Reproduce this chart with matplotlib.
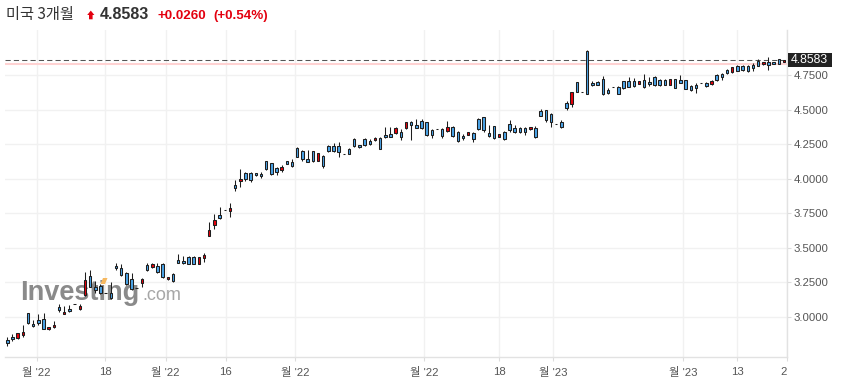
import matplotlib
matplotlib.use('Agg')
import matplotlib.pyplot as plt
import numpy as np
from matplotlib.patches import Rectangle, Polygon
from matplotlib.transforms import Bbox, TransformedBbox, blended_transform_factory

plt.rcParams['font.family'] = ['Liberation Sans', 'Noto Sans CJK KR', 'DejaVu Sans']

# ---------------- data ----------------
opens = [2.831, 2.855, 2.843, 2.870, 3.024, 2.949, 2.974, 2.985, 2.909, 2.923,
         3.068, 3.019, 3.058, 3.094, 3.056, 3.155, 3.297, 3.215, 3.220, 3.169,
         3.174, 3.369, 3.352, 3.318, 3.271, 3.206, 3.246, 3.376, 3.362, 3.367,
         3.381, 3.271, 3.309, 3.410, 3.403, 3.432, 3.432, 3.381, 3.427, 3.586,
         3.664, 3.736, 3.770, 3.767, 3.953, 3.980, 4.040, 4.040, 4.040, 4.035,
         4.125, 4.111, 4.074, 4.062, 4.127, 4.120, 4.221, 4.200, 4.144, 4.200,
         4.129, 4.163, 4.236, 4.236, 4.238, 4.178, 4.214, 4.284, 4.243, 4.284,
         4.272, 4.277, 4.296, 4.316, 4.321, 4.328, 4.337, 4.364, 4.408, 4.388,
         4.417, 4.408, 4.350, 4.359, 4.357, 4.345, 4.373, 4.339, 4.308, 4.318,
         4.328, 4.431, 4.444, 4.328, 4.379, 4.303, 4.337, 4.393, 4.366, 4.366,
         4.366, 4.357, 4.366, 4.489, 4.494, 4.468, 4.393, 4.410, 4.547, 4.538,
         4.697, 4.629, 4.924, 4.692, 4.697, 4.719, 4.641, 4.661, 4.663, 4.704,
         4.704, 4.707, 4.687, 4.714, 4.697, 4.733, 4.714, 4.712, 4.680, 4.721,
         4.712, 4.712, 4.668, 4.678, 4.694, 4.692, 4.687, 4.750, 4.755, 4.786,
         4.770, 4.813, 4.815, 4.815, 4.825, 4.851, 4.827, 4.844, 4.844, 4.864,
         4.845]
highs = [2.851, 2.872, 2.884, 2.942, 3.029, 2.976, 3.019, 3.024, 2.927, 2.971,
         3.090, 3.075, 3.082, 3.094, 3.092, 3.324, 3.338, 3.261, 3.234, 3.169,
         3.253, 3.387, 3.381, 3.324, 3.318, 3.206, 3.280, 3.387, 3.387, 3.387,
         3.387, 3.289, 3.318, 3.454, 3.437, 3.439, 3.436, 3.434, 3.463, 3.688,
         3.744, 3.792, 3.770, 3.825, 3.990, 4.067, 4.050, 4.050, 4.042, 4.048,
         4.129, 4.115, 4.082, 4.100, 4.129, 4.140, 4.226, 4.207, 4.207, 4.202,
         4.185, 4.169, 4.243, 4.260, 4.267, 4.178, 4.224, 4.292, 4.245, 4.296,
         4.289, 4.298, 4.299, 4.371, 4.376, 4.371, 4.357, 4.410, 4.415, 4.429,
         4.431, 4.408, 4.359, 4.359, 4.368, 4.415, 4.378, 4.345, 4.321, 4.337,
         4.339, 4.441, 4.448, 4.386, 4.383, 4.323, 4.347, 4.422, 4.386, 4.371,
         4.376, 4.375, 4.383, 4.502, 4.499, 4.473, 4.393, 4.422, 4.560, 4.629,
         4.701, 4.629, 4.929, 4.709, 4.709, 4.743, 4.654, 4.661, 4.668, 4.709,
         4.733, 4.730, 4.706, 4.757, 4.733, 4.741, 4.719, 4.719, 4.721, 4.723,
         4.752, 4.716, 4.675, 4.690, 4.694, 4.699, 4.714, 4.757, 4.767, 4.796,
         4.810, 4.822, 4.825, 4.820, 4.835, 4.864, 4.844, 4.883, 4.846, 4.868,
         4.860]
lows = [2.788, 2.824, 2.838, 2.851, 2.947, 2.923, 2.938, 2.909, 2.907, 2.918,
        3.032, 3.017, 3.034, 3.094, 3.048, 3.152, 3.213, 3.169, 3.164, 3.169,
        3.126, 3.338, 3.295, 3.232, 3.191, 3.206, 3.217, 3.331, 3.352, 3.316,
        3.280, 3.269, 3.249, 3.387, 3.381, 3.379, 3.379, 3.381, 3.396, 3.584,
        3.633, 3.707, 3.770, 3.720, 3.912, 3.939, 3.985, 3.977, 4.022, 4.006,
        4.064, 4.028, 4.028, 4.050, 4.106, 4.086, 4.154, 4.129, 4.120, 4.120,
        4.127, 4.079, 4.195, 4.195, 4.158, 4.178, 4.176, 4.231, 4.224, 4.236,
        4.243, 4.275, 4.212, 4.296, 4.299, 4.325, 4.282, 4.362, 4.279, 4.364,
        4.361, 4.310, 4.296, 4.359, 4.296, 4.339, 4.301, 4.267, 4.279, 4.316,
        4.267, 4.354, 4.339, 4.301, 4.287, 4.301, 4.279, 4.339, 4.330, 4.330,
        4.318, 4.355, 4.296, 4.451, 4.412, 4.376, 4.393, 4.368, 4.499, 4.520,
        4.627, 4.629, 4.612, 4.670, 4.675, 4.607, 4.612, 4.661, 4.612, 4.651,
        4.661, 4.665, 4.685, 4.656, 4.673, 4.670, 4.673, 4.675, 4.678, 4.654,
        4.690, 4.649, 4.636, 4.622, 4.694, 4.661, 4.675, 4.709, 4.714, 4.759,
        4.767, 4.779, 4.777, 4.772, 4.777, 4.815, 4.825, 4.786, 4.828, 4.830,
        4.843]
closes = [2.807, 2.836, 2.880, 2.889, 2.952, 2.933, 2.952, 2.913, 2.925, 2.940,
          3.048, 3.036, 3.039, 3.094, 3.077, 3.263, 3.217, 3.191, 3.169, 3.169,
          3.133, 3.350, 3.300, 3.239, 3.200, 3.206, 3.271, 3.336, 3.381, 3.324,
          3.285, 3.287, 3.256, 3.391, 3.387, 3.381, 3.381, 3.432, 3.447, 3.628,
          3.700, 3.717, 3.770, 3.787, 3.934, 3.997, 3.997, 3.990, 4.024, 4.017,
          4.067, 4.033, 4.050, 4.082, 4.108, 4.093, 4.158, 4.140, 4.122, 4.125,
          4.183, 4.093, 4.202, 4.202, 4.195, 4.178, 4.180, 4.236, 4.226, 4.241,
          4.253, 4.296, 4.216, 4.299, 4.303, 4.366, 4.301, 4.408, 4.390, 4.368,
          4.368, 4.316, 4.316, 4.359, 4.310, 4.371, 4.306, 4.274, 4.292, 4.335,
          4.289, 4.361, 4.352, 4.310, 4.294, 4.321, 4.284, 4.352, 4.335, 4.335,
          4.337, 4.373, 4.303, 4.455, 4.424, 4.408, 4.393, 4.376, 4.513, 4.625,
          4.629, 4.629, 4.615, 4.675, 4.680, 4.615, 4.622, 4.661, 4.615, 4.654,
          4.665, 4.668, 4.704, 4.663, 4.683, 4.675, 4.675, 4.680, 4.719, 4.656,
          4.694, 4.651, 4.644, 4.654, 4.694, 4.668, 4.707, 4.714, 4.733, 4.764,
          4.808, 4.781, 4.784, 4.777, 4.801, 4.817, 4.842, 4.825, 4.830, 4.832,
          4.858]

x_tick_pos = [5.68, 18.87, 30.59, 42.18, 55.56, 80.47, 94.96, 105.39, 130.49, 140.92]
x_tick_labels = ["월 '22", "18", "월 '22", "16", "월 '22", "월 '22", "18", "월 '23", "월 '23", "13"]
edge_tick_pos = 150.58
edge_tick_label = "20"
y_ticks = [3.0, 3.25, 3.5, 3.75, 4.0, 4.25, 4.5, 4.75]

last_price = 4.8583
prev_close = 4.8323
title_name = "미국 3개월"
price_text = "4.8583"
change_text = "+0.0260"
pct_text = "(+0.54%)"

# ---------------- styles ----------------
W, H = 841, 388
BLUE = '#4aa3e6'
RED = '#e8000b'
EDGE = '#1e1e1e'
GRID = '#f1f1f1'
AXCOL = '#e2e2e2'
LBL = '#555555'
TITLE_RED = '#e3000f'

fig = plt.figure(figsize=(W / 100, H / 100), dpi=100)
fig.patch.set_facecolor('white')


def fpx(x, y):
    return (x / W, 1 - y / H)


ax = fig.add_axes([5 / W, 1 - 357 / H, (787 - 5) / W, (357 - 30) / H])
ax.set_xlim(-0.44, edge_tick_pos)
ax.set_ylim(2.708, 5.076)

o = np.array(opens)
c = np.array(closes)
hi = np.array(highs)
lo = np.array(lows)
xs = np.arange(len(o))
up = c > o
cols = np.where(up, RED, BLUE)

ax.vlines(xs, lo, hi, color=EDGE, lw=0.75, zorder=3)
ax.bar(xs, np.abs(c - o), bottom=np.minimum(o, c), width=0.48, color=cols,
       edgecolor=EDGE, linewidth=0.75, zorder=4)

# reference lines
ax.axhline(prev_close, color='#ffd2d2', lw=1.5, zorder=2)
ax.axhline(last_price, color='#555555', lw=0.75, ls=(0, (5, 3)), zorder=2.5)

# grid & axes styling
ax.set_axisbelow(True)
ax.set_xticks(x_tick_pos + [edge_tick_pos])
ax.set_xticklabels(x_tick_labels + [""])
ax.set_yticks(y_ticks)
ax.set_yticklabels([f"{v:.4f}" for v in y_ticks])
ax.yaxis.tick_right()
ax.grid(True, color=GRID, lw=1.0)
for s in ['top', 'left']:
    ax.spines[s].set_visible(False)
for s in ['bottom', 'right']:
    ax.spines[s].set_color(AXCOL)
    ax.spines[s].set_linewidth(1.0)
ax.tick_params(axis='x', length=3, width=0.8, color='#dddddd', pad=4.5,
               labelsize=8.2, labelcolor=LBL)
ax.tick_params(axis='y', length=3, width=0.8, color='#dddddd', pad=1.5,
               labelsize=8.2, labelcolor=LBL)

# clipped last x label at right edge
btrans = blended_transform_factory(ax.transData, ax.transAxes)
t = ax.text(edge_tick_pos, -0.0453, edge_tick_label, transform=btrans, ha='center',
            va='center', fontsize=8.2, color=LBL)
t.set_clip_on(True)
t.set_clip_box(TransformedBbox(Bbox([[-0.1, -0.3], [1.0, 1.0]]), ax.transAxes))

# watermark
ax.text(*fpx(20.5, 300.5), "Investing", transform=fig.transFigure, fontsize=19.5,
        fontweight='bold', color='#8a8a8a', ha='left', va='baseline', zorder=1)
ax.text(*fpx(142.5, 300.5), ".com", transform=fig.transFigure, fontsize=13,
        color='#a6a6a6', ha='left', va='baseline', zorder=1)
orange = Polygon([fpx(100.5, 284), fpx(103, 278), fpx(107.5, 278), fpx(105, 284)],
                 closed=True, transform=fig.transFigure, facecolor='#f6b860',
                 edgecolor='none', zorder=1.5)
ax.add_artist(orange)

# current price box
box = Rectangle(fpx(787.5, 67), 44.5 / W, 13.7 / H, transform=fig.transFigure,
                facecolor='#222222', edgecolor='none', zorder=5)
fig.add_artist(box)
fig.text(*fpx(809.7, 60.3), price_text, fontsize=8.8, color='white', ha='center',
         va='center', zorder=6)

# title
fig.text(*fpx(6, 19), title_name, fontsize=11, color='#333333',
         family=['Noto Sans CJK KR', 'DejaVu Sans'], ha='left', va='baseline')
arrow = Polygon([fpx(87.2, 15), fpx(90.8, 10.6), fpx(94.4, 15), fpx(92.6, 15),
                 fpx(92.6, 19.3), fpx(89.0, 19.3), fpx(89.0, 15)], closed=True,
                transform=fig.transFigure, facecolor=TITLE_RED, edgecolor='none')
fig.add_artist(arrow)
fig.text(*fpx(100, 19), price_text, fontsize=11.5, fontweight='bold', color='#333333',
         ha='left', va='baseline')
fig.text(*fpx(157, 19), change_text, fontsize=9.6, fontweight='bold', color=TITLE_RED,
         ha='left', va='baseline')
fig.text(*fpx(213.5, 19), pct_text, fontsize=9.6, fontweight='bold', color=TITLE_RED,
         ha='left', va='baseline')

fig.savefig('out.png', dpi=100, facecolor='white')
